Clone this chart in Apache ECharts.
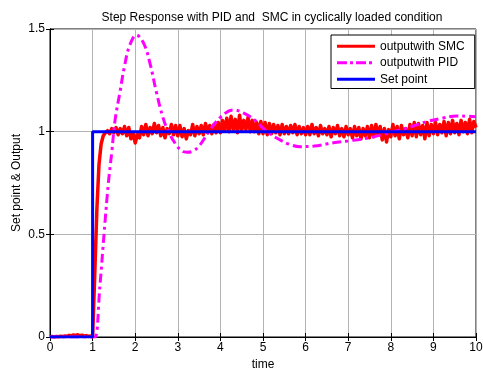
<!DOCTYPE html>
<html>
<head>
<meta charset="utf-8">
<script src="https://cdn.jsdelivr.net/npm/echarts@6/dist/echarts.min.js"></script>
<style>
  html, body { margin: 0; padding: 0; background: #fff; }
  #chart { width: 483px; height: 372px; }
</style>
</head>
<body>
<div id="chart"></div>
<script>
// SMC output sampled every 0.05 s from t = 0 to t = 10
const smcStep = 0.05;
const smcOutput = [
  0, 0.002, 0, 0.003, 0.001, 0.004, 0.002, 0.005, 0.003, 0.008, 0.006, 0.01, 0.007, 0.011, 0.006, 0.009, 0.004, 0.007, 0.003, 0.005,
  0.0, 0.30, 0.62, 0.84, 0.94, 0.98, 0.995, 1.005, 0.99, 1.015, 0.995, 1.02, 0.985, 1.015, 0.99, 1.025, 0.98, 1.02, 0.965, 0.995,
  0.945, 0.985, 0.97, 1.025, 0.985, 1.035, 0.98, 1.02, 0.99, 1.04, 0.995, 1.03, 0.98, 1.02, 0.97, 1.015, 0.99, 1.035, 0.985, 1.03,
  0.98, 1.03, 0.975, 1.015, 0.965, 1.005, 0.985, 1.035, 0.98, 1.025, 0.99, 1.03, 0.985, 1.04, 0.995, 1.03, 0.99, 1.035, 0.995, 1.045,
  0.995, 1.055, 1.005, 1.065, 1.0, 1.075, 1.01, 1.06, 0.995, 1.08, 1.005, 1.055, 1.01, 1.07, 1.0, 1.055, 1.0, 1.045, 0.99, 1.05,
  0.99, 1.045, 0.985, 1.04, 0.99, 1.035, 0.995, 1.03, 0.985, 1.035, 0.99, 1.025, 0.99, 1.03, 0.995, 1.035, 0.985, 1.025, 0.99, 1.02,
  0.985, 1.025, 0.985, 1.035, 0.99, 1.02, 0.98, 1.03, 0.99, 1.015, 0.985, 1.025, 0.975, 1.02, 0.99, 1.03, 0.98, 1.015, 0.975, 1.025,
  0.985, 1.015, 0.97, 1.025, 0.98, 1.02, 0.965, 1.015, 0.98, 1.025, 0.97, 1.03, 0.975, 1.035, 0.985, 1.025, 0.96, 1.015, 0.95, 1.01,
  0.975, 1.035, 0.98, 1.025, 0.965, 1.03, 0.985, 1.015, 0.97, 1.035, 0.98, 1.045, 0.975, 1.04, 0.985, 1.03, 0.965, 1.045, 0.98, 1.035,
  0.99, 1.045, 0.985, 1.035, 0.995, 1.05, 0.98, 1.045, 0.99, 1.055, 0.995, 1.04, 0.985, 1.055, 1.0, 1.045, 0.99, 1.06, 0.995, 1.05,
  1.02
];

// PID output (time, value)
const pidTime = [0, 1.0, 1.06, 1.17, 1.27, 1.37, 1.45, 1.53, 1.64, 1.75, 1.87, 2.03, 2.2, 2.35, 2.5, 2.65, 2.78, 2.95, 3.1, 3.21, 3.35, 3.5, 3.76, 4.0, 4.3, 4.55, 4.85, 5.0, 5.2, 5.4, 5.6, 5.87, 6.2, 6.65, 7.0, 7.43, 7.8, 8.06, 8.5, 8.84, 9.2, 9.55, 9.8, 10];
const pidOutput = [0, 0, 0, 0.245, 0.505, 0.75, 0.9, 1.06, 1.19, 1.32, 1.42, 1.47, 1.43, 1.33, 1.19, 1.07, 1.0, 0.94, 0.905, 0.90, 0.905, 0.93, 1.01, 1.07, 1.106, 1.09, 1.05, 1.017, 0.985, 0.96, 0.94, 0.927, 0.93, 0.946, 0.955, 0.968, 0.985, 1.0, 1.025, 1.049, 1.065, 1.076, 1.075, 1.073];

// Step set point
const setTime = [0, 1, 1, 10];
const setValue = [0, 0, 1, 1];

const xTicks = [0, 1, 2, 3, 4, 5, 6, 7, 8, 9, 10];
const yTicks = [0, 0.5, 1, 1.5];

const seriesNames = ['outputwith SMC', 'outputwith PID', 'Set point'];

const smcData = smcOutput.map((v, i) => [+(i * smcStep).toFixed(2), v]);
const pidData = pidTime.map((t, i) => [t, pidOutput[i]]);
const setData = setTime.map((t, i) => [t, setValue[i]]);

// Legend glyphs: a solid bar and a dash-dot bar
const solidIcon = 'path://M0,0H38V3H0Z';
const dashDotIcon = 'path://M0,0H10V3H0Z M13,0H16V3H13Z M19,0H29V3H19Z M32,0H35V3H32Z M38,0H38V3H38Z';

const font = 'Liberation Sans, Arial, sans-serif';
const chart = echarts.init(document.getElementById('chart'), null, { renderer: 'canvas' });

chart.setOption({
  animation: false,
  backgroundColor: '#ffffff',
  title: {
    text: 'Step Response with PID and  SMC in cyclically loaded condition',
    left: 267, top: 7, textAlign: 'center',
    textStyle: { fontFamily: font, fontSize: 12, fontWeight: 'normal', color: '#000' }
  },
  grid: {
    left: 50, right: 7, top: 29, bottom: 35,
    containLabel: false, outerBoundsMode: 'none',
    show: true, borderColor: '#000', borderWidth: 1, backgroundColor: '#fff'
  },
  legend: {
    orient: 'vertical',
    left: 331, top: 35,
    width: 144,
    padding: [4, 10, 2, 6],
    itemGap: 2,
    itemWidth: 38, itemHeight: 3,
    backgroundColor: '#fff',
    borderColor: '#000', borderWidth: 1,
    textStyle: { fontFamily: font, fontSize: 12, color: '#000', lineHeight: 14.5, padding: [0, 0, 0, 0] },
    data: [
      { name: seriesNames[0], icon: solidIcon, itemStyle: { color: '#ff0000' } },
      { name: seriesNames[1], icon: dashDotIcon, itemStyle: { color: '#ff00ff' } },
      { name: seriesNames[2], icon: solidIcon, itemStyle: { color: '#0000ff' } }
    ]
  },
  xAxis: [{
    type: 'value', min: 0, max: 10, interval: 1,
    name: 'time', nameLocation: 'middle', nameGap: 20,
    nameTextStyle: { fontFamily: font, fontSize: 12, color: '#000' },
    axisLine: { show: true, onZero: false, lineStyle: { color: '#000', width: 1 } },
    axisTick: { show: true, inside: true, length: 4, lineStyle: { color: '#000' } },
    axisLabel: { fontFamily: font, fontSize: 12, color: '#000', margin: 5,
      formatter: v => xTicks.includes(v) ? String(v) : '' },
    splitLine: { show: true, lineStyle: { color: '#b4b4b4', width: 1 } }
  }, {
    type: 'value', min: 0, max: 10, interval: 1, position: 'top',
    axisLine: { show: true, lineStyle: { color: '#000' } },
    axisTick: { show: true, inside: true, length: 4, lineStyle: { color: '#000' } },
    axisLabel: { show: false }, splitLine: { show: false }
  }],
  yAxis: [{
    type: 'value', min: 0, max: 1.5, interval: 0.5,
    name: 'Set point & Output', nameLocation: 'middle', nameGap: 27, nameRotate: 90,
    nameMoveOverlap: false,
    nameTextStyle: { fontFamily: font, fontSize: 12, color: '#000' },
    axisLine: { show: true, onZero: false, lineStyle: { color: '#000', width: 1 } },
    axisTick: { show: true, inside: true, length: 4, lineStyle: { color: '#000' } },
    axisLabel: { fontFamily: font, fontSize: 12, color: '#000', margin: 5,
      formatter: v => yTicks.includes(v) ? String(v) : '' },
    splitLine: { show: true, lineStyle: { color: '#b4b4b4', width: 1 } }
  }, {
    type: 'value', min: 0, max: 1.5, interval: 0.5, position: 'right',
    axisLine: { show: true, lineStyle: { color: '#000' } },
    axisTick: { show: true, inside: true, length: 4, lineStyle: { color: '#000' } },
    axisLabel: { show: false }, splitLine: { show: false }
  }],
  series: [
    {
      name: seriesNames[0], type: 'line', data: smcData,
      symbol: 'none', smooth: false,
      lineStyle: { color: '#ff0000', width: 3.5, join: 'round' },
      itemStyle: { color: '#ff0000' }
    },
    {
      name: seriesNames[1], type: 'line', data: pidData,
      symbol: 'none', smooth: 0.4,
      lineStyle: { color: '#ff00ff', width: 3, type: [9, 4, 3, 4] },
      itemStyle: { color: '#ff00ff' }
    },
    {
      name: seriesNames[2], type: 'line', data: setData,
      symbol: 'none',
      lineStyle: { color: '#0000ff', width: 3 },
      itemStyle: { color: '#0000ff' }
    }
  ]
});
</script>
</body>
</html>
